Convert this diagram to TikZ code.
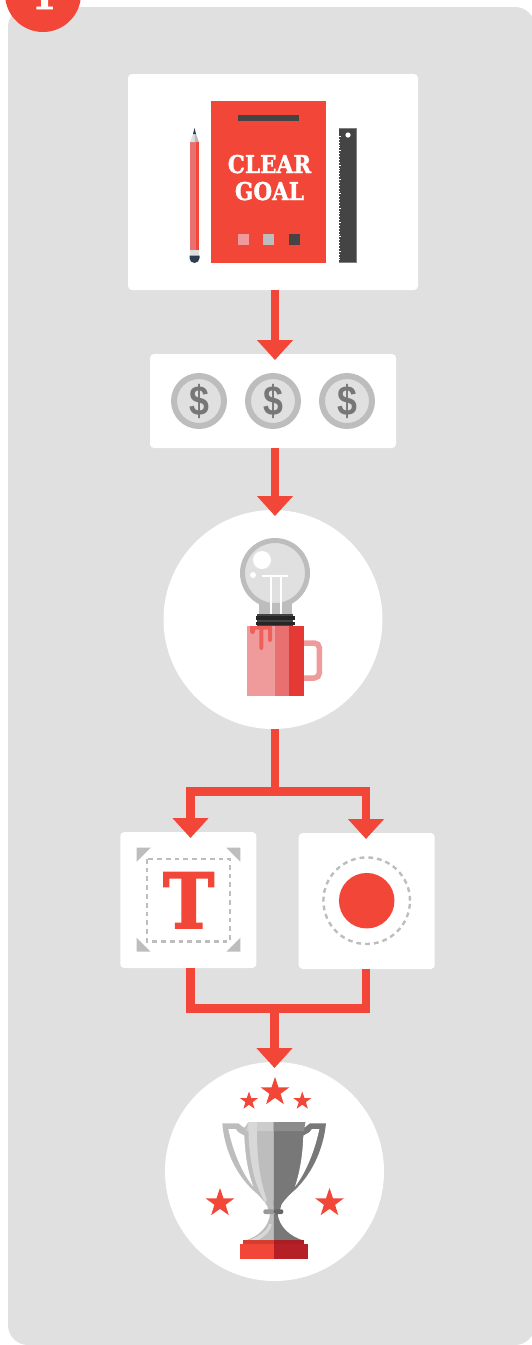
\documentclass[tikz,border=0pt]{standalone}
\usepackage{fontspec}
\usepackage{graphicx}
\usetikzlibrary{arrows.meta,shapes.geometric}
\newfontfamily\slabfont{DejaVu Serif}[BoldFont={DejaVu Serif Bold},BoldFeatures={FakeBold=1.5}]
\newfontfamily\slabheavy{DejaVu Serif}[BoldFont={DejaVu Serif Bold},BoldFeatures={FakeBold=2.5}]
\setsansfont{Liberation Sans}
\definecolor{redmain}{HTML}{F14638}
\definecolor{panelgray}{HTML}{E0E0E0}
\definecolor{ringgray}{HTML}{BDBDBD}
\definecolor{darkgray}{HTML}{444444}
\definecolor{dollar}{HTML}{777777}
\definecolor{mugA}{HTML}{F09B9B}
\definecolor{mugB}{HTML}{E87070}
\definecolor{mugC}{HTML}{E53935}
\definecolor{navy}{HTML}{2C3E50}
\definecolor{dripred}{HTML}{F0605A}
\definecolor{stripe}{HTML}{D8D8D8}
\definecolor{darkhalf}{HTML}{787878}
\definecolor{basedark}{HTML}{B42025}
\definecolor{slabdark}{HTML}{A81E22}
\tikzset{
  sqbox/.style={fill=white,rounded corners=4pt,inner sep=0pt,outer sep=0pt,draw=none},
  roundbox/.style={circle,fill=white,inner sep=0pt,outer sep=0pt,minimum size=#1},
  flowline/.style={draw=redmain,line width=8.5pt},
  flowarrow/.style={flowline,-{Triangle[width=35pt,length=20pt]},shorten >=-6pt},
  staricon/.style={star,star points=5,star point ratio=2.55,fill=redmain,inner sep=0pt,outer sep=0pt,minimum size=#1},
  coin/.style={circle,fill=panelgray,draw=ringgray,line width=6pt,inner sep=0pt,minimum size=50pt,text=dollar,font=\sffamily\bfseries\fontsize{42}{42}\selectfont},
  dashgray/.style={draw=ringgray,line width=2.4pt,dash pattern=on 4.8pt off 4pt},
}
\begin{document}
\begin{tikzpicture}[x=1pt,y=-1pt]
\useasboundingbox (0,0) rectangle (532,1345);
\clip (0,0) rectangle (532,1345);
\fill[white] (0,0) rectangle (532,1345);
\fill[panelgray,rounded corners=20pt] (8,7) rectangle (535,1345);
% badge
\node[circle,fill=redmain,inner sep=0pt,minimum size=76pt] (badge) at (43,-6) {};
\node[anchor=base,text=white,inner sep=0pt,font=\slabheavy\bfseries\fontsize{34}{34}\selectfont] (badgetext) at (44,9) {1};
% boxes
\node[sqbox,minimum width=290pt,minimum height=216pt] (b1) at (273,182) {};
\node[sqbox,minimum width=246pt,minimum height=94pt] (b2) at (273,401) {};
\node[roundbox=219pt] (c3) at (273,619.5) {};
\node[sqbox,minimum width=136pt,minimum height=136pt] (b4) at (188.3,900) {};
\node[sqbox,minimum width=136pt,minimum height=136pt] (b5) at (366.7,901) {};
\node[roundbox=219pt] (c5) at (274.5,1171.5) {};
\coordinate (j1) at (275,791.5);
\coordinate (j2) at (274.5,1008.5);
% connectors
\draw[flowarrow] ([xshift=2pt]b1.south) -- ([xshift=2pt]b2.north);
\draw[flowarrow] ([xshift=2pt]b2.south) -- ([xshift=2pt]c3.north);
\draw[flowline] ([xshift=2pt]c3.south) -- (j1);
\draw[flowarrow] (j1) -| ([xshift=2.2pt]b4.north);
\draw[flowarrow] (j1) -| ([xshift=-0.7pt]b5.north);
\draw[flowline] ([xshift=2.2pt]b4.south) |- (j2);
\draw[flowline] ([xshift=-0.7pt]b5.south) |- (j2);
\draw[flowarrow] (j2) -- (c5.north);
% book
\fill[redmain] (211,101) rectangle (326,263);
\fill[darkgray] (238,115) rectangle (299,121);
\node[anchor=base,text=white,inner sep=0pt,font=\slabfont\bfseries\fontsize{24.5}{24.5}\selectfont] (clear) at (269.5,173) {\scalebox{.88}[1]{CLEAR}};
\node[anchor=base,text=white,inner sep=0pt,font=\slabfont\bfseries\fontsize{24.5}{24.5}\selectfont] (goal) at (269.5,200) {\scalebox{.88}[1]{GOAL}};
\fill[mugA] (238,234) rectangle (249,245);
\fill[ringgray] (263,234) rectangle (274,245);
\fill[darkgray] (289,234) rectangle (300,245);
% pencil
\fill[mugB] (190,142) rectangle (196,250);
\fill[redmain] (196,142) rectangle (199,250);
\fill[gray!25] (190,142) -- (193,134) -- (194.5,134) -- (194.5,142) -- cycle;
\fill[gray!55] (194.5,142) -- (194.5,134) -- (196,134) -- (199,142) -- cycle;
\fill[navy] (193,134) -- (194.5,128) -- (196,134) -- cycle;
\fill[gray!25] (190,250) rectangle (199,255.5);
\fill[navy] (189.5,255.5) -- (199.5,255.5) -- (199.5,258) arc[start angle=0,end angle=-180,radius=5pt] -- cycle;
% ruler
\fill[gray] (339,128) rectangle (357,263);
\fill[darkgray] (339,128.7) rectangle (356.3,262.3);
\fill[white] (348,135) circle[radius=2.6pt];
\foreach \k in {0,...,43}{
  \pgfmathsetmacro{\ty}{136+\k*2.87}
  \pgfmathsetmacro{\tl}{ifthenelse(mod(\k,5)==0,2.4,1.4)}
  \fill[white] (339,\ty) rectangle ++(\tl,0.9);
}
% coins
\node[coin] (coinA) at (199,401) {\scalebox{.85}[1]{\$}};
\node[coin] (coinB) at (273,401) {\scalebox{.85}[1]{\$}};
\node[coin] (coinC) at (347,401) {\scalebox{.85}[1]{\$}};
% bulb
\fill[ringgray] (259,590) rectangle (292,615);
\fill[panelgray,draw=ringgray,line width=5pt] (275,573) circle[radius=32.5pt];
\fill[ringgray] (259,603) -- (292,603) -- (292,615) -- (259,615) -- cycle;
\fill[white] (262,560) circle[radius=9pt];
\fill[white] (253,575) circle[radius=3pt];
\fill[white] (262,575) rectangle (288,577);
\fill[white] (270,576) rectangle (272,615);
\fill[white] (280,576) rectangle (282,615);
\fill[darkgray] (257,614) rectangle (293,626);
\fill[black!85] (256,616) rectangle (295,619.5);
\fill[black!85] (256,621.5) rectangle (295,625);
% mug
\draw[mugA,line width=5.5pt,rounded corners=5pt] (304,643) -- (319.4,643) -- (319.4,678) -- (304,678);
\fill[mugA] (247,626) rectangle (275,696);
\fill[mugB] (275,626) rectangle (289,696);
\fill[mugC] (289,626) rectangle (304,696);
\fill[dripred] (250,626) -- (272,626) -- (272,640) arc[start angle=0,end angle=-180,radius=2pt] -- (268,629.5) -- (263.3,629.5) -- (263.3,648) arc[start angle=0,end angle=-180,radius=2pt] -- (259.3,629.5) -- (255,629.5) -- (255,631.5) arc[start angle=0,end angle=-180,radius=2.5pt] -- cycle;
% T icon
\fill[ringgray] (136.7,847.7) -- (150.7,847.7) -- (136.7,861.7) -- cycle;
\fill[ringgray] (240.3,847.7) -- (226.3,847.7) -- (240.3,861.7) -- cycle;
\fill[ringgray] (136.7,951.7) -- (150.7,951.7) -- (136.7,937.7) -- cycle;
\fill[ringgray] (240.3,951.7) -- (226.3,951.7) -- (240.3,937.7) -- cycle;
\draw[dashgray] (146.7,858.7) rectangle (230,941.3);
\node[anchor=base,text=redmain,inner sep=0pt,font=\slabheavy\bfseries\fontsize{76}{76}\selectfont] (tglyph) at (188.7,928) {\scalebox{.9}[1]{T}};
% circle icon
\node[circle,fill=redmain,inner sep=0pt,minimum size=55.5pt] (dot) at (366.7,900.7) {};
\draw[dashgray] (dot.center) circle[radius=43.3pt];
% trophy
\node[staricon=30pt] (s1) at (275,1092) {};
\node[staricon=19pt] (s2) at (249,1101) {};
\node[staricon=19pt] (s3) at (302.3,1101) {};
\node[staricon=30pt] (s4) at (220,1203) {};
\node[staricon=30pt] (s5) at (329.5,1203) {};
\begin{scope}[shift={(195pt,-1070pt)},x=0.33333pt,y=-0.33333pt]
% silhouette with handles
\fill[ringgray] (82,160) -- (130,160) -- (145,172) -- (150,172) -- (160,156) -- (236,156) -- (236,405) -- (215,405) .. controls (205,390) and (195,380) .. (185,370) .. controls (125,320) and (88,240) .. (82,160) -- cycle;
\fill[darkhalf] (393,160) -- (345,160) -- (330,172) -- (325,172) -- (331,156) -- (236,156) -- (236,405) -- (258,405) .. controls (268,390) and (278,380) .. (288,370) .. controls (348,320) and (385,240) .. (393,160) -- cycle;
% rim
\fill[gray!40] (160,156) -- (236,156) -- (236,183) -- (152,183) -- cycle;
\fill[gray!90] (236,156) -- (331,156) -- (327,183) -- (236,183) -- cycle;
% white wedges between handle and cup
\fill[white] (100,177) -- (122,177) -- (130,187) -- (148,197) .. controls (150,260) and (160,310) .. (175,350) .. controls (145,315) and (115,250) .. (100,177) -- cycle;
\fill[white] (373,177) -- (351,177) -- (343,187) -- (325,197) .. controls (323,260) and (313,310) .. (300,350) .. controls (328,315) and (358,250) .. (373,177) -- cycle;
% highlight
\fill[stripe] (160,156) -- (186,156) .. controls (184,260) and (195,340) .. (220,400) -- (212,400) .. controls (175,340) and (160,260) .. (160,156) -- cycle;
% neck and foot
\fill[ringgray] (212,392) -- (236,392) -- (236,420) -- (220,420) -- cycle;
\fill[darkhalf] (236,392) -- (262,392) -- (255,420) -- (236,420) -- cycle;
\fill[ringgray] (225,432) .. controls (222,470) and (190,500) .. (150,512) -- (236,512) -- (236,432) -- cycle;
\fill[darkhalf] (236,432) -- (248,432) .. controls (252,470) and (285,500) .. (327,512) -- (236,512) -- cycle;
\fill[stripe] (222,462) .. controls (215,485) and (195,495) .. (165,510) -- (190,510) .. controls (215,495) and (228,480) .. (230,462) -- cycle;
\fill[gray!80,rounded corners=2pt] (205,418) rectangle (240,432);
\fill[black!60,rounded corners=2pt] (236,418) rectangle (265,432);
% plinth
\fill[redmain!88!black] (145,510) rectangle (236,521);
\fill[slabdark] (236,510) rectangle (327,521);
\fill[redmain] (135,521) rectangle (236,567);
\fill[basedark] (236,521) rectangle (338,567);
\end{scope}
\end{tikzpicture}
\end{document}
